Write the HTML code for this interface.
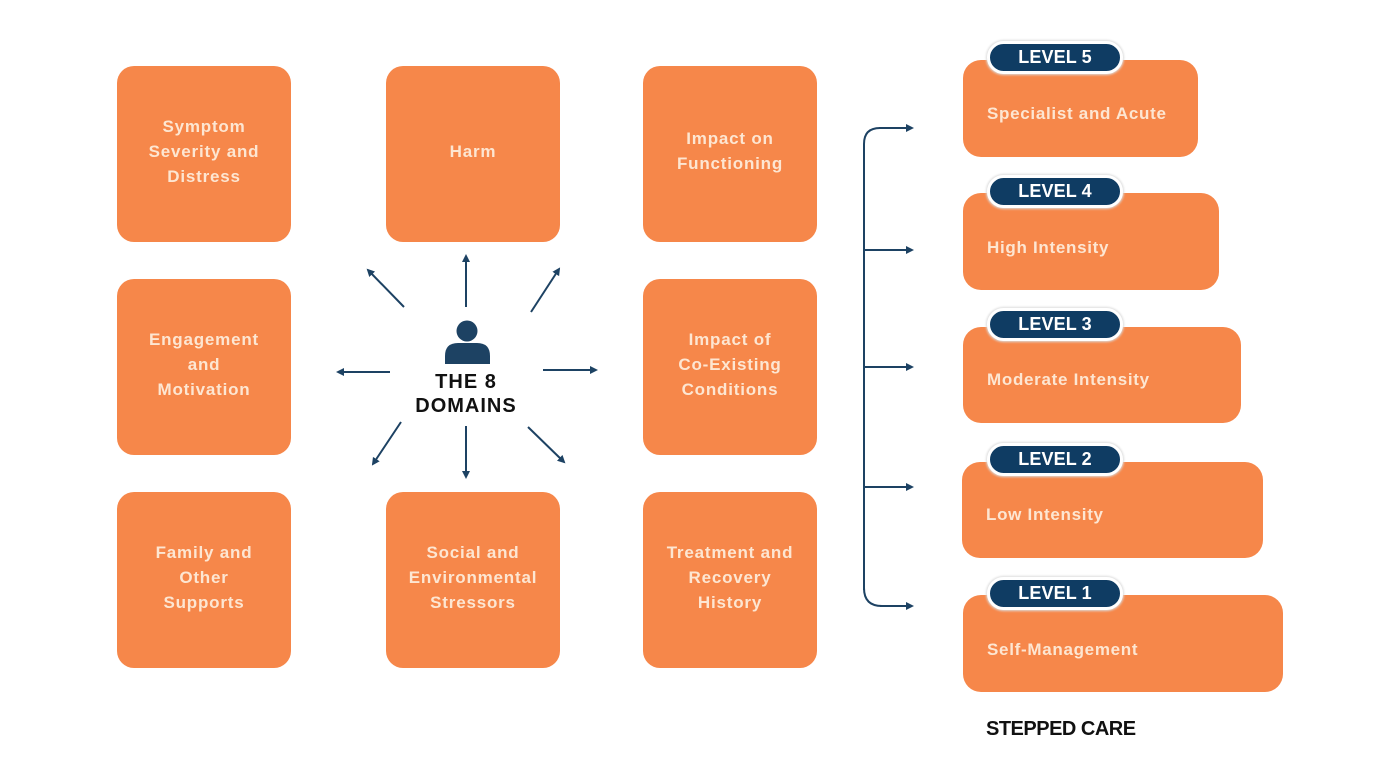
<!DOCTYPE html>
<html>
<head>
<meta charset="utf-8">
<style>
  html,body{margin:0;padding:0;background:#fff;}
  body{width:1400px;height:767px;position:relative;overflow:hidden;font-family:"Liberation Sans",Arial,sans-serif;}
  .box{position:absolute;background:#f6874a;border-radius:17px;display:flex;align-items:center;justify-content:center;text-align:center;color:#fde6d2;font-weight:bold;font-size:17px;line-height:25px;letter-spacing:0.8px;box-sizing:border-box;padding-bottom:6px;}
  .lvl{position:absolute;background:#f6874a;border-radius:18px;color:#fde6d2;font-weight:bold;font-size:17px;letter-spacing:0.7px;}
  .lvl span{position:absolute;left:24px;}
  .badge{position:absolute;left:987px;width:130px;height:27px;background:#0f3c63;border:3px solid #fff;border-radius:17px;color:#fff;font-weight:bold;font-size:18px;line-height:27px;text-align:center;box-shadow:0 0 2px 1px #dcdcdc;letter-spacing:0.1px;}
  .center{position:absolute;left:396px;top:370px;width:140px;text-align:center;font-weight:bold;font-size:20px;line-height:24px;color:#111;letter-spacing:1px;}
  .sc{position:absolute;left:986px;top:718px;font-weight:bold;font-size:20px;color:#111;letter-spacing:-0.5px;}
</style>
</head>
<body>

<div class="box" style="left:117px;top:66px;width:174px;height:176px;"><div>Symptom<br>Severity and<br>Distress</div></div>
<div class="box" style="left:386px;top:66px;width:174px;height:176px;"><div>Harm</div></div>
<div class="box" style="left:643px;top:66px;width:174px;height:176px;"><div>Impact on<br>Functioning</div></div>

<div class="box" style="left:117px;top:279px;width:174px;height:176px;"><div>Engagement<br>and<br>Motivation</div></div>
<div class="box" style="left:643px;top:279px;width:174px;height:176px;"><div>Impact of<br>Co-Existing<br>Conditions</div></div>

<div class="box" style="left:117px;top:492px;width:174px;height:176px;"><div>Family and<br>Other<br>Supports</div></div>
<div class="box" style="left:386px;top:492px;width:174px;height:176px;"><div>Social and<br>Environmental<br>Stressors</div></div>
<div class="box" style="left:643px;top:492px;width:174px;height:176px;"><div>Treatment and<br>Recovery<br>History</div></div>

<svg width="1400" height="767" style="position:absolute;left:0;top:0;" xmlns="http://www.w3.org/2000/svg">
  <defs>
    <marker id="ah" markerWidth="8" markerHeight="8" refX="6" refY="4" orient="auto" markerUnits="userSpaceOnUse">
      <path d="M0,0 L8,4 L0,8 z" fill="#1d4263"/>
    </marker>
  </defs>
  <g stroke="#1d4263" stroke-width="2" fill="none" marker-end="url(#ah)">
    <line x1="404" y1="307" x2="368" y2="270"/>
    <line x1="466" y1="307" x2="466" y2="256"/>
    <line x1="531" y1="312" x2="559" y2="269"/>
    <line x1="390" y1="372" x2="338" y2="372"/>
    <line x1="543" y1="370" x2="596" y2="370"/>
    <line x1="401" y1="422" x2="373" y2="464"/>
    <line x1="466" y1="426" x2="466" y2="477"/>
    <line x1="528" y1="427" x2="564" y2="462"/>
  </g>
  <!-- person icon -->
  <circle cx="467" cy="331" r="10.5" fill="#1d4263"/>
  <path d="M445,364 L445,356 Q445,343 458,343 L477,343 Q490,343 490,356 L490,364 Z" fill="#1d4263"/>

  <!-- bracket -->
  <g stroke="#1d4263" stroke-width="2" fill="none">
    <path d="M864,590 L864,144 Q864,128 880,128"/>
    <path d="M864,588 Q864,606 882,606"/>
  </g>
  <g stroke="#1d4263" stroke-width="2" fill="none" marker-end="url(#ah)">
    <line x1="879" y1="128" x2="912" y2="128"/>
    <line x1="864" y1="250" x2="912" y2="250"/>
    <line x1="864" y1="367" x2="912" y2="367"/>
    <line x1="864" y1="487" x2="912" y2="487"/>
    <line x1="880" y1="606" x2="912" y2="606"/>
  </g>
</svg>

<div class="center">THE 8<br>DOMAINS</div>

<div class="lvl" style="left:963px;top:60px;width:235px;height:97px;"><span style="top:44px;">Specialist and Acute</span></div>
<div class="badge" style="top:41px;">LEVEL 5</div>

<div class="lvl" style="left:963px;top:193px;width:256px;height:97px;"><span style="top:45px;">High Intensity</span></div>
<div class="badge" style="top:175px;">LEVEL 4</div>

<div class="lvl" style="left:963px;top:327px;width:278px;height:96px;"><span style="top:43px;">Moderate Intensity</span></div>
<div class="badge" style="top:308px;">LEVEL 3</div>

<div class="lvl" style="left:962px;top:462px;width:301px;height:96px;"><span style="top:43px;">Low Intensity</span></div>
<div class="badge" style="top:443px;">LEVEL 2</div>

<div class="lvl" style="left:963px;top:595px;width:320px;height:97px;"><span style="top:45px;">Self-Management</span></div>
<div class="badge" style="top:577px;">LEVEL 1</div>

<div class="sc">STEPPED CARE</div>

</body>
</html>
